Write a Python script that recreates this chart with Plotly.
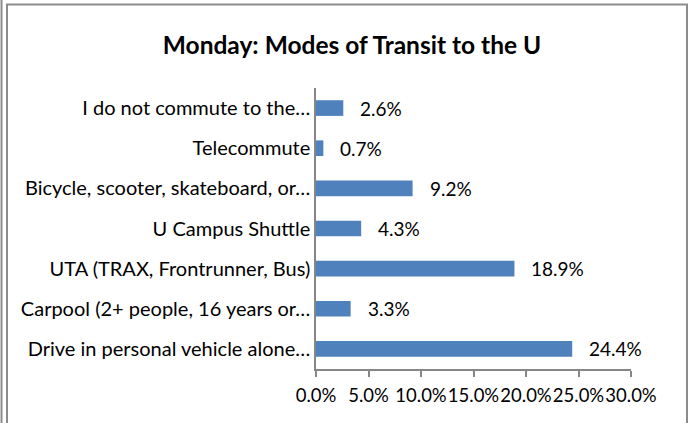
import plotly.graph_objects as go

categories = [
    "Drive in personal vehicle alone…",
    "Carpool (2+ people, 16 years or…",
    "UTA (TRAX, Frontrunner, Bus)",
    "U Campus Shuttle",
    "Bicycle, scooter, skateboard, or…",
    "Telecommute",
    "I do not commute to the…",
]
values = [0.244, 0.033, 0.189, 0.043, 0.092, 0.007, 0.026]
value_labels = ["24.4%", "3.3%", "18.9%", "4.3%", "9.2%", "0.7%", "2.6%"]
tick_vals = [0, 0.05, 0.10, 0.15, 0.20, 0.25, 0.30]
tick_text = ["0.0%", "5.0%", "10.0%", "15.0%", "20.0%", "25.0%", "30.0%"]
title_text = "Monday: Modes of Transit to the U"

FONT = "Lato, Calibri, Carlito, sans-serif"

W, H = 695, 423
ml, mr, mt, mb = 316, 64, 88, 54
pw, ph = W - ml - mr, H - mt - mb

fig = go.Figure(
    go.Bar(
        x=values,
        y=categories,
        orientation="h",
        marker=dict(color="#4F81BD", line=dict(width=0)),
        width=0.39,
        hoverinfo="skip",
    )
)

for v, c, t in zip(values, categories, value_labels):
    fig.add_annotation(
        x=v, y=c, text=t, showarrow=False, xanchor="left", yanchor="middle",
        xshift=15, font=dict(family=FONT, size=19, color="#000000"),
    )

def px_x(p):
    return (p - ml) / pw

def px_y(p):
    return (H - mb - p) / ph

# outer frame
fig.add_shape(type="rect", xref="paper", yref="paper",
              x0=px_x(7), x1=px_x(687), y0=px_y(440), y1=px_y(4.5),
              line=dict(color="#8c8c8c", width=2), layer="below")
fig.add_shape(type="line", xref="paper", yref="paper",
              x0=px_x(1.5), x1=px_x(1.5), y0=px_y(440), y1=px_y(-5),
              line=dict(color="#8c8c8c", width=2), layer="below")

fig.update_layout(
    width=W, height=H,
    margin=dict(l=ml, r=mr, t=mt, b=mb, autoexpand=False),
    paper_bgcolor="white", plot_bgcolor="white",
    showlegend=False,
    title=dict(text="<b>" + title_text + "</b>", x=352 / W, xanchor="center",
               y=1 - 45 / H, yanchor="middle", yref="container",
               font=dict(family=FONT, size=24.5, color="#000000")),
    font=dict(family=FONT, size=20, color="#000000"),
)
fig.update_xaxes(
    range=[0, 0.30], tickvals=tick_vals, ticktext=tick_text, tickangle=0,
    showgrid=False, zeroline=False, showline=True, linecolor="#868686", linewidth=1.5,
    ticks="outside", ticklen=6, tickcolor="#868686", tickwidth=1.5,
    ticklabelstandoff=3, tickfont=dict(family=FONT, size=18.5, color="#000000"),
    fixedrange=True,
)
fig.update_yaxes(
    categoryorder="array", categoryarray=categories,
    showgrid=False, zeroline=False, showline=True, linecolor="#868686", linewidth=1.5,
    ticks="", tickfont=dict(family=FONT, size=20, color="#000000"),
    fixedrange=True,
)

fig.write_html(
    "out.html",
    config={"displayModeBar": False},
    post_script="document.body.style.margin='0';document.body.style.overflow='hidden';",
)
